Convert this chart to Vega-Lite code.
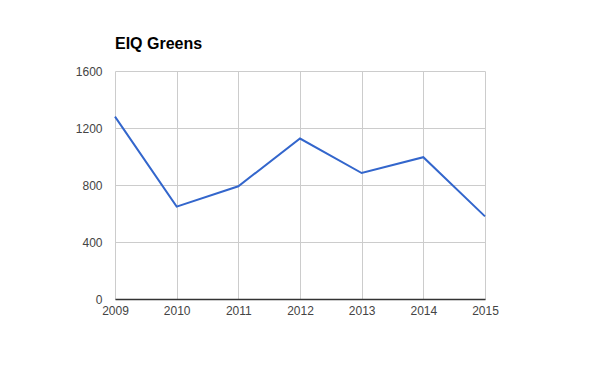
{
  "$schema": "https://vega.github.io/schema/vega-lite/v6.json",
  "width": 370,
  "height": 228,
  "autosize": {"type": "none"},
  "padding": {"left": 115, "top": 71, "right": 115, "bottom": 72},
  "background": "white",
  "title": {
    "text": "EIQ Greens",
    "anchor": "start",
    "frame": "group",
    "font": "Liberation Sans",
    "fontSize": 16,
    "fontWeight": "bold",
    "color": "#000000",
    "offset": 13
  },
  "config": {
    "view": {"stroke": null},
    "axis": {
      "labelFont": "Liberation Sans",
      "labelFontSize": 12,
      "labelColor": "#444444",
      "gridColor": "#cccccc",
      "gridWidth": 1,
      "ticks": false,
      "title": null
    }
  },
  "data": {
    "values": [
      {"year": 2009, "value": 1280},
      {"year": 2010, "value": 648},
      {"year": 2011, "value": 791},
      {"year": 2012, "value": 1126},
      {"year": 2013, "value": 884},
      {"year": 2014, "value": 995},
      {"year": 2015, "value": 580}
    ]
  },
  "mark": {"type": "line", "color": "#3366cc", "strokeWidth": 2},
  "encoding": {
    "x": {
      "field": "year",
      "type": "quantitative",
      "scale": {"domain": [2009, 2015], "nice": false, "zero": false},
      "axis": {
        "values": [2009, 2010, 2011, 2012, 2013, 2014, 2015],
        "format": "d",
        "domainColor": "#333333",
        "domainWidth": 1.5,
        "labelPadding": 6,
        "labelFlush": false
      }
    },
    "y": {
      "field": "value",
      "type": "quantitative",
      "scale": {"domain": [0, 1600], "nice": false},
      "axis": {
        "values": [0, 400, 800, 1200, 1600],
        "format": "d",
        "domain": false,
        "labelPadding": 13
      }
    }
  }
}
